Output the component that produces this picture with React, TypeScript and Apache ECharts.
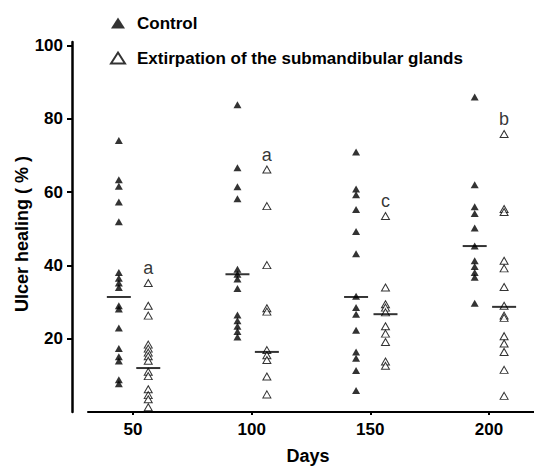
import React, { useEffect, useRef } from "react";
import * as echarts from "echarts";

// ---- Data ----
const days = [50, 100, 150, 200];

const control50 = [74.1, 63.4, 61.6, 57.3, 51.9, 38.1, 36.5, 35.2, 34.0, 29.0, 28.1, 22.9, 17.3, 15.1, 13.9, 8.8, 7.7];
const control100 = [83.9, 66.7, 61.5, 58.2, 39.0, 37.6, 36.3, 33.7, 26.5, 24.9, 23.4, 22.0, 20.5];
const control150 = [71.0, 60.9, 59.3, 55.3, 49.3, 43.2, 31.6, 28.5, 26.7, 22.3, 16.4, 14.7, 11.3, 5.9];
const control200 = [86.0, 62.0, 56.0, 54.2, 50.2, 45.3, 41.3, 39.7, 38.1, 36.8, 29.7];

const extirp50 = [35.2, 29.0, 26.3, 18.4, 17.3, 16.2, 15.2, 14.0, 11.0, 9.8, 6.2, 4.6, 3.5, 1.3];
const extirp100 = [66.2, 56.2, 40.1, 28.3, 27.4, 16.9, 15.5, 14.2, 9.7, 4.8];
const extirp150 = [53.5, 34.0, 29.4, 28.5, 27.2, 23.4, 21.4, 19.1, 13.8, 12.6];
const extirp200 = [75.9, 55.4, 54.6, 41.3, 39.2, 34.1, 29.0, 26.3, 25.7, 20.7, 18.7, 16.4, 11.5, 4.4];

const controlGroups = [control50, control100, control150, control200];
const extirpGroups = [extirp50, extirp100, extirp150, extirp200];

const controlMedians = [31.4, 37.6, 31.4, 45.3];
const extirpMedians = [12.0, 16.4, 26.7, 28.7];

const significance = ["a", "a", "c", "b"];

const xTicks = [50, 100, 150, 200];
const yTicks = [20, 40, 60, 80, 100];

const seriesNames = ["Control", "Extirpation of the submandibular glands"];

// ---- Presentation ----
const CONTROL_OFFSET = -6;
const EXTIRP_OFFSET = 6.4;
const FONT = "'Liberation Sans', Arial, sans-serif";

export default function App() {
  const ref = useRef<HTMLDivElement>(null);

  useEffect(() => {
    if (!ref.current) return;
    const chart = echarts.init(ref.current, null, { renderer: "svg" });

    const controlData: any[] = [];
    controlGroups.forEach((g, i) => g.forEach((v) => controlData.push([days[i] + CONTROL_OFFSET, v])));

    const extirpData: any[] = [];
    extirpGroups.forEach((g, i) => {
      const top = Math.max(...g);
      let labelled = false;
      g.forEach((v) => {
        if (!labelled && v === top) {
          labelled = true;
          extirpData.push({
            value: [days[i] + EXTIRP_OFFSET, v],
            label: { show: true, formatter: significance[i] },
          });
        } else {
          extirpData.push([days[i] + EXTIRP_OFFSET, v]);
        }
      });
    });

    const medianData: any[] = [];
    controlMedians.forEach((m, i) => medianData.push([days[i] + CONTROL_OFFSET, m]));
    extirpMedians.forEach((m, i) => medianData.push([days[i] + EXTIRP_OFFSET, m]));

    const textBase = { color: "#000", fontFamily: FONT, fontWeight: "bold" as const };

    chart.setOption({
      animation: false,
      backgroundColor: "#fff",
      textStyle: { fontFamily: FONT },
      grid: { left: 88, right: 0, top: 42, bottom: 52, containLabel: false },
      legend: {
        data: seriesNames,
        orient: "vertical",
        left: 110,
        top: 14,
        padding: 0,
        itemWidth: 14,
        itemHeight: 11,
        itemGap: 17,
        icon: "triangle",
        textStyle: { ...textBase, fontSize: 17, lineHeight: 18, padding: [0, 0, 0, 7] },
      },
      xAxis: {
        type: "value",
        min: 31,
        max: 219,
        name: "Days",
        nameLocation: "middle",
        nameGap: 35,
        nameMoveOverlap: false,
        nameTextStyle: { ...textBase, fontSize: 18, padding: [0, 6, 0, 0] },
        axisLine: { show: true, lineStyle: { color: "#000", width: 2 } },
        axisTick: { show: true, length: 3, lineStyle: { color: "#000", width: 2 }, customValues: xTicks },
        axisLabel: { ...textBase, fontSize: 17, margin: 9, customValues: xTicks },
        splitLine: { show: false },
      },
      yAxis: {
        type: "value",
        min: 0,
        max: 101,
        offset: 16,
        name: "Ulcer healing ( % )",
        nameLocation: "middle",
        nameGap: 41,
        nameMoveOverlap: false,
        nameRotate: 90,
        nameTextStyle: { ...textBase, fontSize: 18, padding: [0, 14, 0, 0] },
        axisLine: { show: true, onZero: false, lineStyle: { color: "#000", width: 2.5 } },
        axisTick: { show: true, length: 5, lineStyle: { color: "#000", width: 2 }, customValues: yTicks },
        axisLabel: { ...textBase, fontSize: 17, margin: 9, customValues: yTicks },
        splitLine: { show: false },
      },
      series: [
        {
          name: seriesNames[0],
          type: "scatter",
          symbol: "triangle",
          symbolSize: [8, 7],
          itemStyle: { color: "#000" },
          data: controlData,
          z: 2,
        },
        {
          name: seriesNames[1],
          type: "scatter",
          symbol: "triangle",
          symbolSize: [8, 7],
          itemStyle: { color: "#fff", borderColor: "#000", borderWidth: 1 },
          label: { show: false, position: "top", distance: 2, color: "#000", fontSize: 18, fontFamily: FONT },
          data: extirpData,
          z: 2,
        },
        {
          name: "Median",
          type: "scatter",
          symbol: "rect",
          symbolSize: [24, 2],
          itemStyle: { color: "#000" },
          data: medianData,
          z: 3,
        },
      ],
    });

    return () => chart.dispose();
  }, []);

  return (
    <div
      ref={ref}
      style={{ position: "fixed", left: 0, top: 0, width: 534, height: 470, background: "#fff" }}
    />
  );
}
